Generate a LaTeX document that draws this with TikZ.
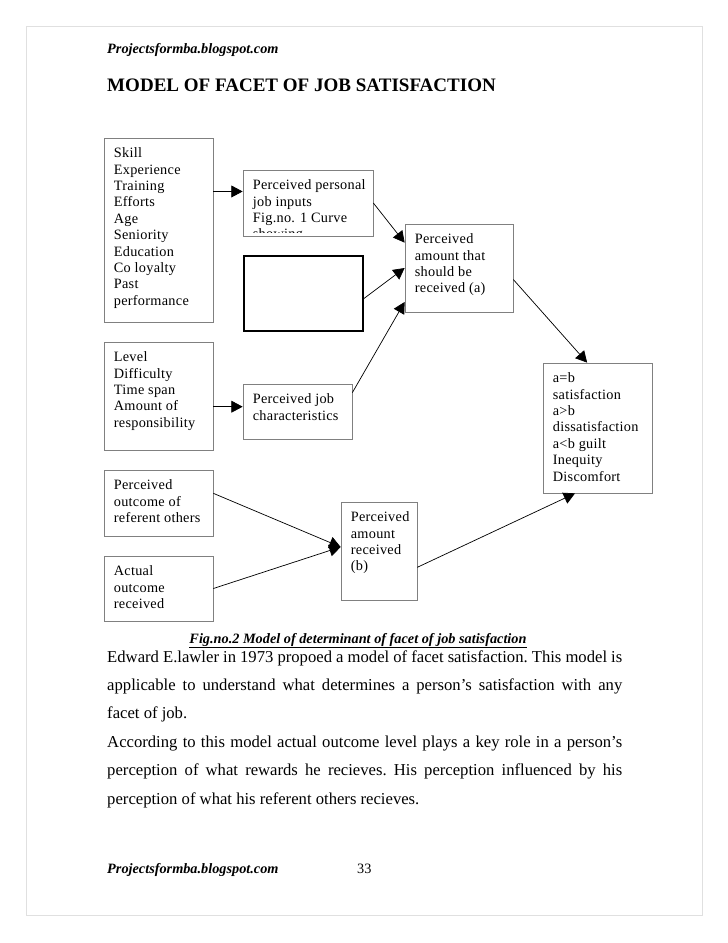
\documentclass[tikz,border=0pt]{standalone}
\usepackage{fontspec}
\setmainfont{Liberation Serif}
\newfontfamily\boxfont[LetterSpace=2]{Liberation Serif}
\usetikzlibrary{arrows.meta,fit}

\begin{document}
\begin{tikzpicture}[
  x=0.8407pt, y=-0.8407pt,
  box/.style={draw=black!50, line width=0.6pt, inner sep=0pt},
  blankbox/.style={draw=black, line width=1pt, inner sep=0pt},
  txt/.style={anchor=north west, align=left, inner xsep=8.4pt, inner ysep=8.3pt, font=\boxfont\fontsize{12}{13.8}\selectfont, execute at begin node=\strut},
  arr/.style={-{Triangle[length=9.5pt,width=10pt]}, line width=0.6pt},
  site/.style={anchor=base west, inner sep=0pt, font=\bfseries\itshape\fontsize{12}{14}\selectfont}
]
\useasboundingbox (0,0) rectangle (728,943);
\draw[black!12, line width=0.8pt] (26,26) rectangle (702,915);

\node[site] (head) at (107,53) {Projectsformba.blogspot.com};
\node[anchor=base west, inner sep=0pt, font=\bfseries\fontsize{16}{19}\selectfont] (title) at (107,91) {MODEL OF FACET OF JOB SATISFACTION};

% boxes
\node[box, fit={(104,138) (213,322)}] (skills) {};
\node[box, fit={(243,170) (373,236)}] (inputs) {};
\node[blankbox, fit={(244,256) (363,331)}] (blank) {};
\node[box, fit={(405,224) (513,312)}] (should) {};
\node[box, fit={(104,342) (213,450)}] (level) {};
\node[box, fit={(243,384) (352,439)}] (jobchar) {};
\node[box, fit={(104,470) (213,536)}] (referent) {};
\node[box, fit={(104,556) (213,621)}] (actual) {};
\node[box, fit={(341,502) (417,600)}] (received) {};
\node[box, fit={(543,363) (652,493)}] (outcome) {};

% box texts
\node[txt] (skills-text) at (skills.north west) {Skill\\Experience\\Training\\Efforts\\Age\\Seniority\\Education\\Co loyalty\\Past\\performance};
\begin{scope}
\clip (inputs.north west) rectangle ([yshift=3pt]inputs.south east);
\node[txt] (inputs-text) at (inputs.north west) {Perceived personal\\job inputs\\Fig.no. 1 Curve\\showing};
\end{scope}
\node[txt] (should-text) at (should.north west) {Perceived\\amount that\\should be\\received (a)};
\node[txt] (level-text) at (level.north west) {Level\\Difficulty\\Time span\\Amount of\\responsibility};
\node[txt] (jobchar-text) at (jobchar.north west) {Perceived job\\characteristics};
\node[txt] (referent-text) at (referent.north west) {Perceived\\outcome of\\referent others};
\node[txt] (actual-text) at (actual.north west) {Actual\\outcome\\received};
\node[txt] (received-text) at (received.north west) {Perceived\\amount\\received\\(b)};
\node[txt] (outcome-text) at (outcome.north west) {a=b\\satisfaction\\a>b\\dissatisfaction\\a<b guilt\\Inequity\\Discomfort};

% connectors
\draw[arr] (skills.east |- inputs.170) -- (inputs.170);
\draw[arr] (inputs.east) -- (should.155);
\draw[arr] (blank.-5) -- (should.west);
\draw[arr] (jobchar.19) -- (should.212);
\draw[arr] (should.-12) -- (outcome.99);
\draw[arr] (level.east |- jobchar.175) -- (jobchar.175);
\draw[arr] (referent.10) -- (received.174);
\draw[arr] (actual.east) -- (received.174);
\draw[arr] (received.-23) -- (outcome.251);

% caption and text
\node[anchor=base, font=\bfseries\itshape\fontsize{12}{14}\selectfont] (caption) at (358,643) {\underline{Fig.no.2 Model of determinant of facet of job satisfaction}};
\node[anchor=base west, inner sep=0pt] (body) at (107,662) {\parbox[t]{433pt}{\fontsize{14}{23.9}\selectfont\frenchspacing\setlength\parindent{0pt}\emergencystretch=2em
Edward E.lawler in 1973 propoed a model of facet satisfaction. This model is\linebreak
applicable to understand what determines a person’s satisfaction with any\linebreak
facet of job.\par
According to this model actual outcome level plays a key role in a person’s\linebreak
perception of what rewards he recieves. His perception influenced by his\linebreak
perception of what his referent others recieves.}};

\node[site] (foot) at (107,873) {Projectsformba.blogspot.com};
\node[anchor=base west, inner sep=0pt, font=\fontsize{12}{14}\selectfont] (page) at (357,873) {33};
\end{tikzpicture}
\end{document}
